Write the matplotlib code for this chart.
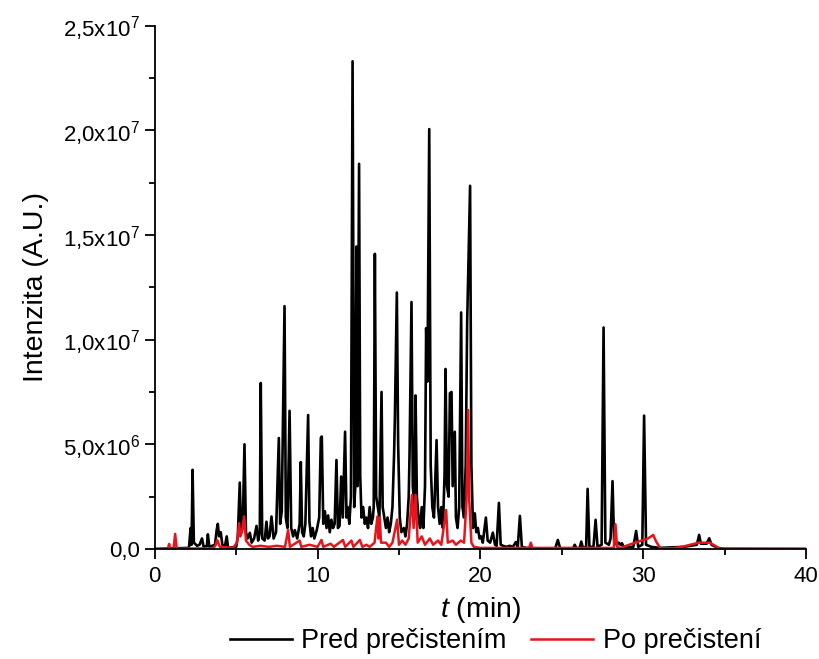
import matplotlib
matplotlib.use("Agg")
import matplotlib.pyplot as plt
from matplotlib.ticker import MultipleLocator
import numpy as np

plt.rcParams['font.family'] = ['Liberation Sans', 'DejaVu Sans']
plt.rcParams['mathtext.fontset'] = 'custom'
plt.rcParams['mathtext.rm'] = 'Liberation Sans'
plt.rcParams['mathtext.it'] = 'Liberation Sans:italic'

# chromatogram traces: time (min), intensity (x1e6 A.U.)
t_pred = [0, 2.1, 2.2, 2.26, 2.32, 2.4, 2.6, 2.75, 2.9, 3.0, 3.2, 3.26, 3.35, 3.7, 3.8, 3.87, 3.95,
          4.05, 4.15, 4.3, 4.42, 4.5, 5.0, 5.1, 5.22, 5.3, 5.4, 5.51, 5.6, 5.7, 5.84, 5.95, 6.1,
          6.25, 6.35, 6.45, 6.51, 6.6, 6.75, 6.86, 6.95, 7.05, 7.17, 7.3, 7.45, 7.62, 7.7, 7.8,
          7.97, 8.05, 8.15, 8.28, 8.38, 8.5, 8.6, 8.75, 8.9, 8.97, 9.05, 9.15, 9.25, 9.42, 9.5,
          9.6, 9.7, 9.8, 9.95, 10.1, 10.2, 10.26, 10.35, 10.45, 10.55, 10.65, 10.75, 10.85,
          10.95, 11.05, 11.16, 11.25, 11.35, 11.45, 11.55, 11.69, 11.78, 11.85, 11.95, 12.05,
          12.15, 12.25, 12.32, 12.39, 12.45, 12.55, 12.62, 12.7, 12.8, 12.9, 13.0, 13.1, 13.2,
          13.3, 13.4, 13.45, 13.52, 13.6, 13.7, 13.8, 13.93, 14.0, 14.1, 14.2, 14.3, 14.4, 14.5,
          14.6, 14.7, 14.75, 14.87, 14.95, 15.05, 15.15, 15.3, 15.4, 15.5, 15.6, 15.65, 15.77,
          15.85, 15.95, 16.02, 16.1, 16.2, 16.3, 16.4, 16.5, 16.6, 16.67, 16.75, 16.86, 16.95,
          17.05, 17.15, 17.2, 17.31, 17.4, 17.5, 17.6, 17.7, 17.8, 17.86, 17.95, 18.05, 18.13,
          18.23, 18.3, 18.43, 18.5, 18.6, 18.7, 18.82, 18.9, 19.0, 19.1, 19.19, 19.27, 19.37,
          19.45, 19.55, 19.66, 19.75, 19.85, 19.95, 20.05, 20.15, 20.34, 20.45, 20.6, 20.77,
          20.9, 21.0, 21.14, 21.25, 21.4, 21.6, 21.8, 22.0, 22.18, 22.3, 22.43, 22.55, 22.8,
          23.5, 24.6, 24.76, 24.9, 25.7, 25.8, 25.9, 26.1, 26.2, 26.3, 26.5, 26.59, 26.7, 26.95,
          27.08, 27.2, 27.45, 27.57, 27.68, 27.9, 28.0, 28.12, 28.22, 28.4, 28.5, 28.6, 28.7,
          28.8, 29.4, 29.57, 29.7, 29.95, 30.06, 30.18, 30.5, 31.0, 32.5, 33.3, 33.44, 33.55,
          33.9, 34.06, 34.2, 34.6, 35.0, 40.0]
i_pred = [0, 0.05, 1.0, 0.2, 3.78, 0.3, 0.15, 0.2, 0.5, 0.1, 0.15, 0.7, 0.1, 0.2, 0.9, 1.2, 0.6,
          0.8, 0.2, 0.1, 0.6, 0.05, 0.1, 0.6, 3.17, 0.8, 1.0, 5.0, 0.8, 0.5, 0.77, 0.3, 0.5,
          1.1, 0.4, 0.8, 7.93, 0.5, 0.4, 1.3, 0.5, 0.6, 1.55, 0.5, 0.8, 5.3, 1.2, 1.8,
          11.6, 1.5, 1.0, 6.6, 1.0, 0.6, 0.9, 0.5, 1.2, 4.15, 0.8, 0.6, 1.2, 6.4, 1.3,
          0.6, 1.0, 0.5, 0.9, 1.5, 5.3, 5.37, 1.2, 1.8, 1.0, 1.6, 0.8, 1.4,
          1.0, 1.2, 4.25, 1.0, 1.1, 3.46, 1.5, 5.6, 1.5, 2.0, 1.2, 2.5,
          23.3, 2.0, 3.0, 14.45, 3.0, 18.4, 3.5, 1.5, 2.0, 1.2, 1.5, 1.0, 2.0,
          1.2, 1.5, 2.0, 14.1, 2.5, 2.0, 1.5, 7.5, 2.0, 1.5, 1.0, 1.5, 0.8, 1.2,
          2.0, 4.5, 6.3, 12.25, 5.0, 1.5, 0.8, 1.0, 0.6, 1.2, 2.5, 4.5, 11.8,
          3.0, 2.0, 7.33, 2.5, 1.5, 1.0, 2.0, 1.0, 3.0, 10.55, 8.0, 20.06, 4.0,
          2.0, 1.5, 2.5, 5.2, 2.0, 1.2, 2.0, 1.0, 3.5, 8.6, 3.0, 2.5, 7.44,
          7.5, 3.0, 5.6, 1.5, 1.0, 2.0, 11.3, 2.0, 1.5, 4.0, 10.8, 13.65, 17.35,
          4.0, 1.0, 1.7, 0.8, 1.0, 0.5, 0.6, 0.3, 1.5, 0.4, 0.3, 0.78,
          0.2, 0.15, 2.2, 0.2, 0.15, 0.1, 0.15, 0.1, 0.33, 0.1, 1.58, 0.1, 0.05,
          0.02, 0.03, 0.43, 0.03, 0.03, 0.2, 0.02, 0.05, 0.35, 0.05, 0.1, 2.87, 0.1, 0.1,
          1.39, 0.1, 0.2, 10.58, 0.3, 0.2, 0.5, 3.24, 0.3, 0.2, 0.3, 0.2, 0.27,
          0.1, 0.1, 0.86, 0.1, 0.2, 6.37, 0.2, 0.1, 0.05, 0.1, 0.2, 0.67, 0.25,
          0.25, 0.51, 0.2, 0.05, 0, 0]

t_po = [0, 0.8, 0.88, 0.95, 1.15, 1.25, 1.35, 2.0, 3.6, 3.75, 3.83, 3.9, 4.0, 4.8, 5.05, 5.18,
        5.25, 5.35, 5.49, 5.6, 5.8, 6.0, 6.5, 7.0, 7.5, 8.0, 8.19, 8.3, 8.9, 9.0, 9.5, 10.0,
        10.24, 10.35, 10.8, 11.0, 11.56, 11.7, 12.08, 12.2, 12.6, 12.75, 13.0, 13.2, 13.5,
        13.68, 13.75, 13.82, 13.9, 14.2, 14.4, 14.6, 14.89, 15.0, 15.2, 15.4, 15.6, 15.8,
        15.9, 16.02, 16.15, 16.4, 16.6, 16.9, 17.1, 17.4, 17.6, 17.9, 18.0, 18.3, 18.5, 18.8,
        19.0, 19.15, 19.25, 19.32, 19.45, 19.6, 20.0, 23.0, 23.1, 23.2, 28.2, 28.3, 28.4,
        28.6, 29.5, 30.3, 30.62, 30.8, 31.07, 31.8, 32.5, 33.4, 34.1, 34.7, 40.0]
i_po = [0, 0, 0.24, 0, 0, 0.72, 0, 0.02, 0.03, 0.2, 0.43, 0.3, 0.1, 0.05, 0.3, 1.23,
        0.6, 0.8, 1.55, 0.4, 0.2, 0.1, 0.15, 0.1, 0.15, 0.1, 0.9, 0.1, 0.4, 0.1, 0.2, 0.1,
        0.43, 0.1, 0.25, 0.1, 0.43, 0.1, 0.4, 0.1, 0.43, 0.1, 0.2, 0.1, 0.3,
        1.55, 0.5, 1.5, 0.3, 0.3, 0.1, 0.3, 1.4, 0.2, 0.4, 0.2, 0.5, 2.58,
        1.0, 2.58, 0.3, 0.6, 0.2, 0.5, 0.2, 0.4, 0.2, 1.86, 0.3, 0.4, 0.2, 0.4,
        0.3, 2.3, 6.64, 2.3, 0.3, 0.1, 0.05, 0.05, 0.3, 0.05, 0.05, 1.18, 0.1,
        0.05, 0.3, 0.5, 0.67, 0.35, 0.03, 0.03, 0.12, 0.3, 0.3, 0.02, 0]

ytick_vals = [0, 5e6, 1e7, 1.5e7, 2e7, 2.5e7]
ytick_labels = ['0,0', '5,0x10$^6$', '1,0x10$^7$', '1,5x10$^7$', '2,0x10$^7$', '2,5x10$^7$']

fig = plt.figure(figsize=(8.19, 6.59), dpi=100)
ax = fig.add_axes([0.189, 0.167, 0.795, 0.794])

ax.plot(t_pred, np.array(i_pred) * 1e6, color='black', lw=1.9, label='Pred prečistením')
ax.plot(t_po, np.array(i_po) * 1e6, color='#e8141b', lw=1.8, label='Po prečistení')

ax.set_xlim(0, 40)
ax.set_ylim(0, 2.5e7)
ax.xaxis.set_major_locator(MultipleLocator(10))
ax.xaxis.set_minor_locator(MultipleLocator(5))
ax.set_yticks(ytick_vals)
ax.set_yticklabels(ytick_labels)
ax.yaxis.set_minor_locator(MultipleLocator(2.5e6))

for s in ['top', 'right']:
    ax.spines[s].set_visible(False)
for s in ['left', 'bottom']:
    ax.spines[s].set_linewidth(1.3)
ax.tick_params(which='major', direction='out', length=7, width=1.3, labelsize=16)
ax.tick_params(axis='x', which='major', pad=5)
ax.tick_params(which='minor', direction='out', length=4, width=1.3)

ax.set_xlabel('$t$ (min)', fontsize=20.5, labelpad=6)
ax.set_ylabel('Intenzita (A.U.)', fontsize=20.5, labelpad=10)

fig.legend(loc='lower center', bbox_to_anchor=(0.605, -0.03), ncol=2, frameon=False,
           fontsize=19.5, handlelength=2.3, columnspacing=0.9, handletextpad=0.35)

fig.savefig('out.png', dpi=100)
